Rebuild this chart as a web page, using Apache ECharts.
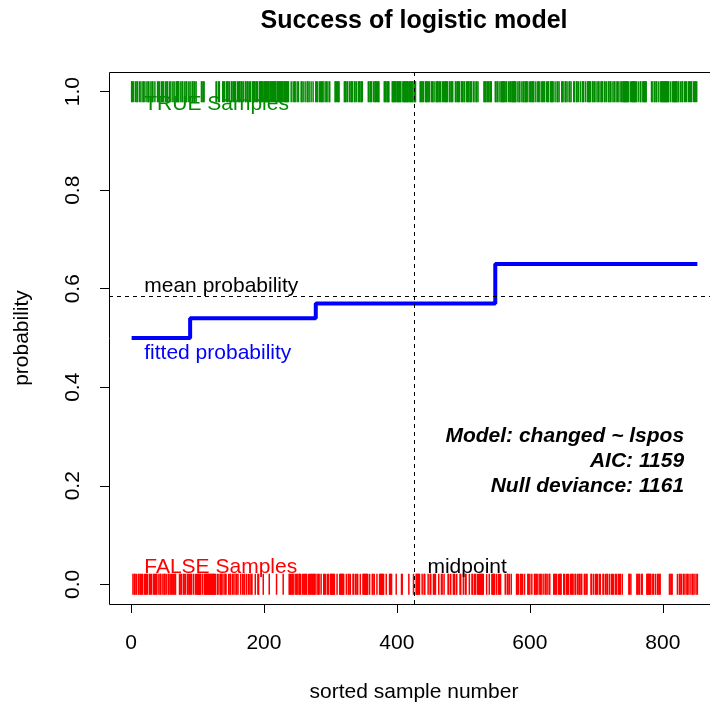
<!DOCTYPE html>
<html>
<head>
<meta charset="utf-8">
<script src="https://cdn.jsdelivr.net/npm/echarts@6/dist/echarts.min.js"></script>
<style>
  html, body { margin: 0; padding: 0; background: #ffffff; }
  #chart { width: 710px; height: 706px; }
</style>
</head>
<body>
<div id="chart"></div>
<script>
// Sorted outcomes, stored as alternating run lengths (TRUE, FALSE, TRUE, ...)
// one array per fitted-probability level
const runsLevel1 = [2,1,1,2,1,1,2,2,1,1, 1,2,2,1,1,2,1,1,2,2, 1,1,2,2,1,3,2,1,1,2,
  2,1,1,2,1,1,2,2,1,1, 1,2,1,1,1,2, 5,2,1,1,2,2,1,1,2,2,1,1];
const runsLevel2 = [1,2,2,1,2,1,1,7, 2,1,2,17, 2,2,2,4,
  2,1,1,2,3,1,1,2,2,1,1,1,2,2,1,1,3,1,2,1,1,2,2,1,2,1,1,1,1,2,
  4,1,3,2,6,1,8,1,10,1,9,1,8,3,
  1,2,1,1,2,2,1,1,1,3,2,1,1,2,1,2,2,1,1,2,1,2,1,3];
const runsLevel3 = [2,1,1,2,2,1,3,2,1,1,2,2,2,7, 3,1,3,7,
  3,1,2,2,1,1,3,2,2,1,1,2,3,1,3,8, 2,1,3,2,1,1,3,1,3,7, 3,1,4,4,
  6,1,7,2,9,1,6,1, 3,6,
  3,1,2,2,4,1,2,2,3,1,1,2,4,1,3,2,2,1,5,2,2,1,3,3,2,1,4,2,3,1,2,2,4,1,3,2,2,2,2,1,1,8,
  4,1,3,1,3,5];
const runsLevel4 = [2,1,2,2,1,1, 6,1,2,2,1,1,2,1,7, 2,1,1,2,2,1,1,2,1,4, 2,1,1,2,1,3,
  2,1,2,2,1,1,2,2,1,2,2,1,1,2,2,5, 2,1,2,2,1,1,3,3, 2,2,1,1,2,2,1,1,3,2,
  2,2,1,1,2,1,2,3, 2,1,2,5, 2,2,1,2,2,1,1,2,2,3,
  2,2,1,1,2,2,1,2,2,1,1,2,2,2,1,1,2,2,1,9, 2,1,1,8, 2,1,2,2,2,6,
  7,2,2,2,1,2,2,1,2,13, 2,1,2,7,
  1,2,2,1,1,2,2,2,1,1,2,2,1,2,2,1,1,2,1,1,1];
const outcomeRuns = [runsLevel1, runsLevel2, runsLevel3, runsLevel4];

// Fitted probability: sample number where each level begins, and its value
const stepStart = [1, 89, 278, 548];
const stepProb = [0.50, 0.54, 0.57, 0.65];
const meanProb = 0.585;

// Axis ticks
const xTicks = [0, 200, 400, 600, 800];
const yTicks = [0, 0.2, 0.4, 0.6, 0.8, 1.0];

// Model summary text
const modelLines = ['Model: changed ~ lspos', 'AIC: 1159', 'Null deviance: 1161'];

// Expand run lengths into sample numbers for each outcome
const trueSamples = [];
const falseSamples = [];
let idx = 1;
outcomeRuns.forEach(function (runs) {
  runs.forEach(function (len, k) {
    for (let j = 0; j < len; j++) {
      if (k % 2 === 0) trueSamples.push([idx, 1]);
      else falseSamples.push([idx, 0]);
      idx++;
    }
  });
});
const nSamples = idx - 1;
const midpoint = nSamples / 2;

const fittedData = stepStart.map(function (x, i) { return [x, stepProb[i]]; });
fittedData.push([nSamples, stepProb[stepProb.length - 1]]);

const FONT = '"Liberation Sans", Arial, Helvetica, sans-serif';
const GREEN = '#008B00';
const chart = echarts.init(document.getElementById('chart'), null, { renderer: 'canvas' });

// Plot box (the right edge runs past the canvas, so only the visible part is gridded)
const box = { left: 109, top: 72, width: 611, height: 532 };
const visibleWidth = 710 - box.left;
const pad = 0.04;
const xLo = 1 - pad * (nSamples - 1);
const xHi = nSamples + pad * (nSamples - 1);
const xVisibleHi = xLo + (xHi - xLo) * visibleWidth / box.width;

chart.setOption({
  animation: false,
  backgroundColor: '#ffffff',
  grid: {
    left: box.left, top: box.top, width: visibleWidth, height: box.height,
    show: false
  },
  xAxis: {
    type: 'value',
    min: xLo, max: xVisibleHi,
    axisLine: { show: false, onZero: false },
    splitLine: { show: false },
    axisTick: { show: true, inside: false, length: 9, customValues: xTicks,
      lineStyle: { color: '#000000', width: 1 } },
    axisLabel: { show: true, customValues: xTicks, margin: 29, color: '#000000',
      fontSize: 21, fontFamily: FONT, formatter: function (v) { return String(v); } }
  },
  yAxis: {
    type: 'value',
    min: -pad, max: 1 + pad,
    axisLine: { show: false, onZero: false },
    splitLine: { show: false },
    axisTick: { show: true, inside: false, length: 9, customValues: yTicks,
      lineStyle: { color: '#000000', width: 1 } },
    axisLabel: { show: true, customValues: yTicks, margin: 25, rotate: 90, color: '#000000',
      fontSize: 21, fontFamily: FONT, formatter: function (v) { return v.toFixed(1); } }
  },
  series: [
    {
      name: 'TRUE', type: 'scatter', data: trueSamples, symbol: 'rect',
      symbolSize: [1.5, 21], itemStyle: { color: GREEN, opacity: 1 }, z: 2, large: false
    },
    {
      name: 'FALSE', type: 'scatter', data: falseSamples, symbol: 'rect',
      symbolSize: [1.5, 21], itemStyle: { color: '#FF0000', opacity: 1 }, z: 2, large: false
    },
    {
      name: 'fitted', type: 'line', step: 'end', data: fittedData, symbol: 'none',
      lineStyle: { color: '#0000FF', width: 4 }, z: 3,
      markLine: {
        silent: true, symbol: 'none', precision: 4, label: { show: false },
        lineStyle: { color: '#000000', width: 1, type: [4, 4] },
        data: [{ yAxis: meanProb }, { xAxis: midpoint }]
      }
    }
  ]
});

// Text placed in data coordinates
function px(x, y) { return chart.convertToPixel({ gridIndex: 0 }, [x, y]); }
const notes = [
  { text: 'TRUE Samples', x: 20, y: 0.975, align: 'left', color: GREEN },
  { text: 'FALSE Samples', x: 20, y: 0.035, align: 'left', color: '#FF0000' },
  { text: 'mean probability', x: 20, y: meanProb + 0.02, align: 'left', color: '#000000' },
  { text: 'fitted probability', x: 20, y: stepProb[0] - 0.03, align: 'left', color: '#0000FF' },
  { text: 'midpoint', x: midpoint + 20, y: 0.035, align: 'left', color: '#000000' }
];
const graphics = [{
  type: 'rect', z: 20, silent: true,
  shape: { x: box.left + 0.5, y: box.top + 0.5, width: box.width, height: box.height },
  style: { fill: 'none', stroke: '#000000', lineWidth: 1 }
}];
notes.forEach(function (n) {
  const p = px(n.x, n.y);
  graphics.push({ type: 'text', x: p[0], y: p[1], z: 10,
    style: { text: n.text, fill: n.color, font: '21px ' + FONT, textAlign: n.align, textVerticalAlign: 'middle' } });
});
modelLines.forEach(function (t, i) {
  const p = px(nSamples - 20, 0.3 - 0.05 * i);
  graphics.push({ type: 'text', x: p[0], y: p[1], z: 10,
    style: { text: t, fill: '#000000', font: 'italic bold 21px ' + FONT, textAlign: 'right', textVerticalAlign: 'middle' } });
});
graphics.push({ type: 'text', x: 414, y: 21,
  style: { text: 'Success of logistic model', fill: '#000000', font: 'bold 25px ' + FONT, textAlign: 'center', textVerticalAlign: 'middle' } });
graphics.push({ type: 'text', x: 414, y: 692,
  style: { text: 'sorted sample number', fill: '#000000', font: '21px ' + FONT, textAlign: 'center', textVerticalAlign: 'middle' } });
graphics.push({ type: 'text', x: 22, y: 338, rotation: Math.PI / 2,
  style: { text: 'probability', fill: '#000000', font: '21px ' + FONT, textAlign: 'center', textVerticalAlign: 'middle' } });
chart.setOption({ graphic: graphics });
</script>
</body>
</html>
